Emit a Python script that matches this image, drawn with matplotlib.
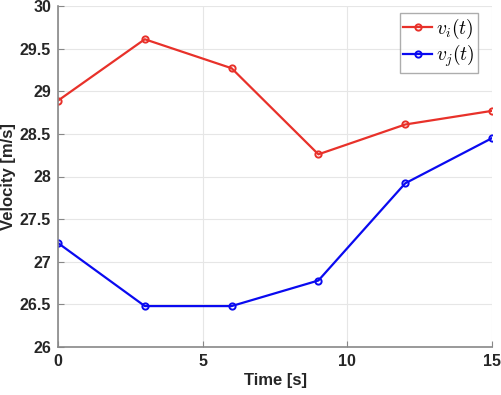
import matplotlib
matplotlib.use("Agg")
import matplotlib.pyplot as plt

t = [0, 3, 6, 9, 12, 15]
v_i = [28.89, 29.61, 29.27, 28.26, 28.61, 28.77]
v_j = [27.22, 26.48, 26.48, 26.78, 27.92, 28.45]
xticks = [0, 5, 10, 15]
yticks = [26, 26.5, 27, 27.5, 28, 28.5, 29, 29.5, 30]

plt.rcParams["font.family"] = "Liberation Sans"
plt.rcParams["mathtext.fontset"] = "cm"

fig = plt.figure(figsize=(5.01, 3.95), dpi=100)
ax = fig.add_axes([58/501, 1-347/395, (492-58)/501, (347-6)/395])

ax.plot(t, v_i, color="#e8312a", lw=1.6, marker="o", ms=4.5, mfc="none", mew=1.4, label=r"$v_i(t)$")
ax.plot(t, v_j, color="#0a0af0", lw=1.6, marker="o", ms=4.5, mfc="none", mew=1.4, label=r"$v_j(t)$")

ax.set_xlim(0, 15)
ax.set_ylim(26, 30)
ax.set_xticks(xticks)
ax.set_yticks(yticks)
ax.set_yticklabels(["26", "26.5", "27", "27.5", "28", "28.5", "29", "29.5", "30"])
ax.grid(True, color="#e6e6e6", lw=0.8)
ax.set_axisbelow(True)
for s in ["top", "right"]:
    ax.spines[s].set_visible(False)
for s in ["left", "bottom"]:
    ax.spines[s].set_color("#888888")
    ax.spines[s].set_linewidth(1.2)
ax.tick_params(axis="both", direction="in", length=4, color="#888888", labelsize=11.5, labelcolor="#262626", pad=5)
for lab in ax.get_xticklabels() + ax.get_yticklabels():
    lab.set_fontweight("bold")

ax.set_xlabel("Time [s]", fontsize=12, fontweight="bold", color="#262626", labelpad=3)
ax.set_ylabel("Velocity [m/s]", fontsize=12, fontweight="bold", color="#262626")
ax.yaxis.set_label_coords(-0.097, 0.5)

leg = ax.legend(loc="upper right", bbox_to_anchor=(0.9677, 0.9795), fontsize=14, frameon=True,
                fancybox=False, handlelength=1.45, handletextpad=0.2, borderpad=0.2,
                labelspacing=0.1, borderaxespad=0)
leg.get_frame().set_edgecolor("#999999")
leg.get_frame().set_linewidth(1.0)

fig.savefig("out.png", dpi=100)
